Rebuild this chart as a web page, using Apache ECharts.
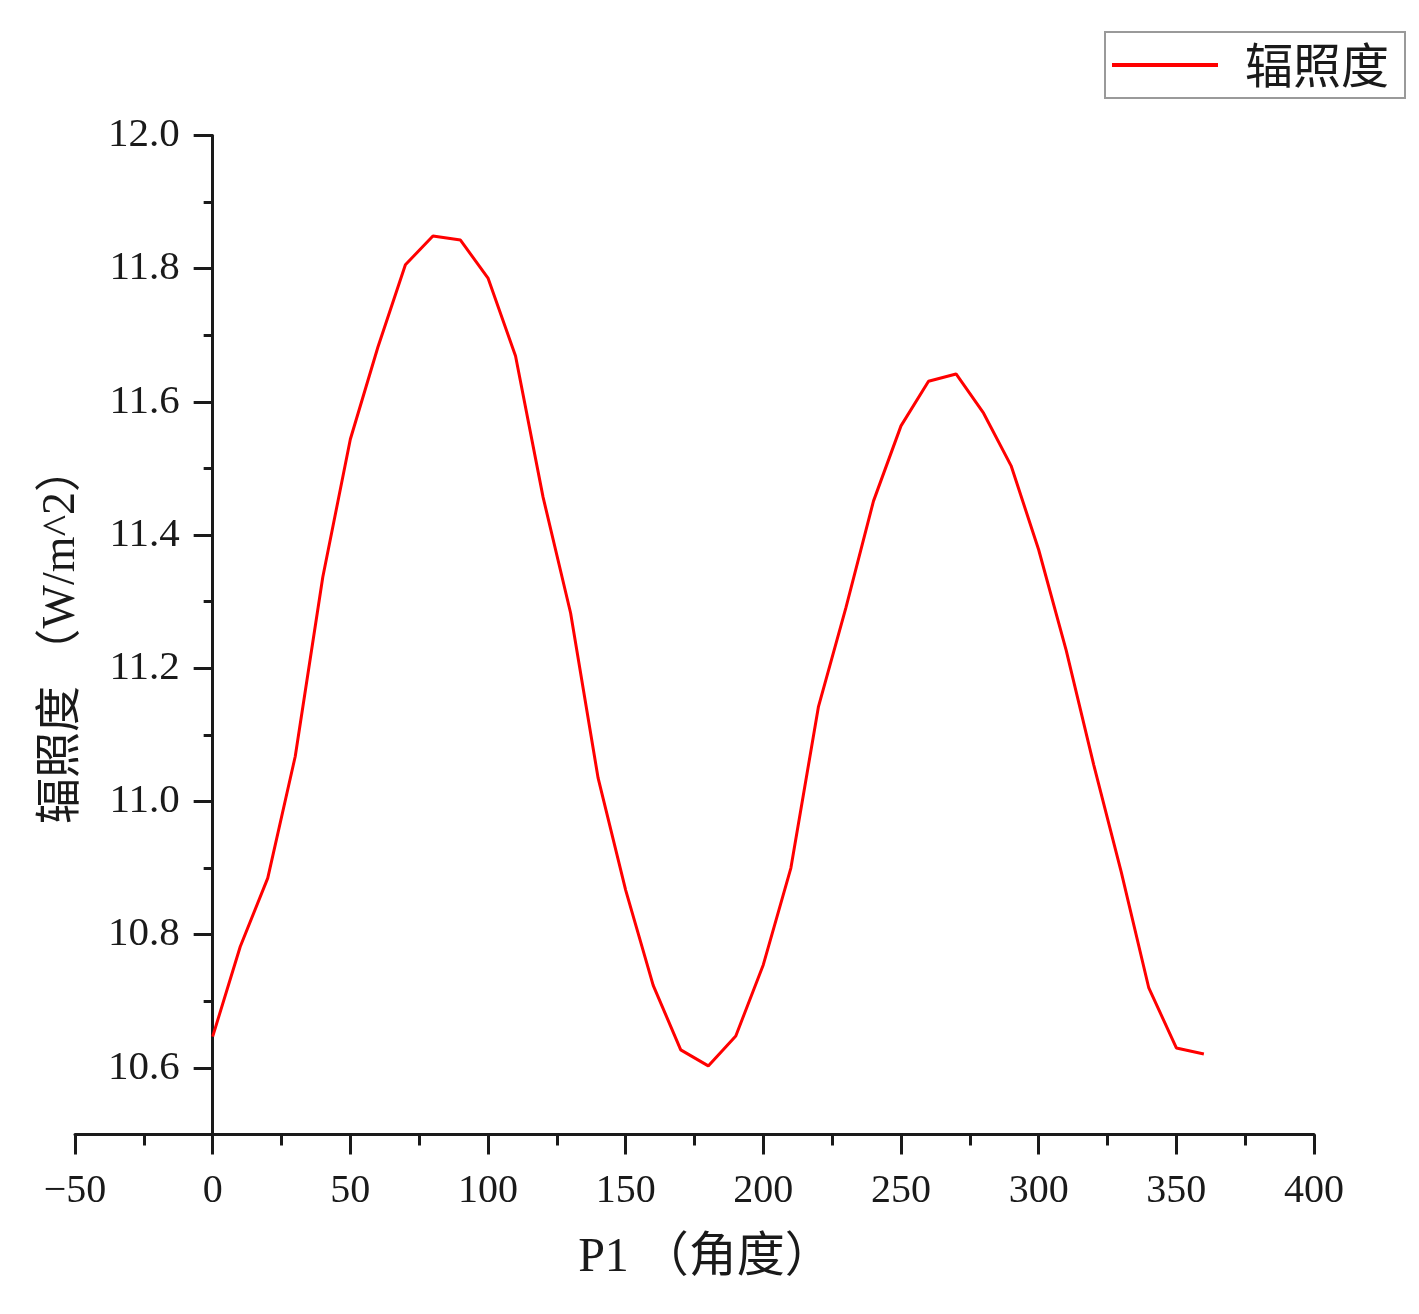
<!DOCTYPE html>
<html>
<head>
<meta charset="utf-8">
<script src="https://cdn.jsdelivr.net/npm/echarts@6/dist/echarts.min.js"></script>
<style>
html,body{margin:0;padding:0;background:#fff;}
#chart{width:1419px;height:1314px;}
</style>
</head>
<body>
<div id="chart"></div>
<script>
const seriesName = '辐照度';
const angles = [0,10,20,30,40,50,60,70,80,90,100,110,120,130,140,150,160,170,180,190,200,210,220,230,240,250,260,270,280,290,300,310,320,330,340,350,360];
const irradiance = [10.647,10.782,10.885,11.068,11.337,11.544,11.682,11.806,11.849,11.843,11.786,11.669,11.457,11.283,11.035,10.867,10.724,10.627,10.603,10.648,10.755,10.900,11.142,11.291,11.451,11.564,11.631,11.642,11.583,11.504,11.378,11.227,11.055,10.894,10.720,10.630,10.621];
const yMajorTicks = [10.6,10.8,11.0,11.2,11.4,11.6,11.8,12.0];
const yMinorTicks = [10.7,10.9,11.1,11.3,11.5,11.7,11.9];
const xAxisName = 'P1 （角度）';
const yAxisName = '辐照度 （W/m^2）';

const fontMix = "'Liberation Serif','Noto Sans CJK SC',serif";
const ink = '#1a1a1a';

const X_MIN = -50, X_MAX = 400, Y_MIN = 10.5, Y_MAX = 12.0;
const plotLeft = 75, plotRight = 105, plotTop = 135.5, plotBottom = 179.5;
const plotWidth = 1419 - plotLeft - plotRight;
// the y axis sits at x = 0, so its grid starts where x = 0 falls on the x axis
const zeroLeft = plotLeft + (0 - X_MIN) / (X_MAX - X_MIN) * plotWidth;

const chart = echarts.init(document.getElementById('chart'));
chart.setOption({
  backgroundColor: '#fff',
  animation: false,
  grid: [
    { left: plotLeft, right: plotRight, top: plotTop, bottom: plotBottom, containLabel: false, outerBoundsMode: 'none' },
    { left: zeroLeft, right: plotRight, top: plotTop, bottom: plotBottom, containLabel: false, outerBoundsMode: 'none' }
  ],
  legend: {
    right: 14, top: 32,
    data: [{ name: seriesName, icon: 'rect' }],
    itemWidth: 106, itemHeight: 4,
    borderColor: '#9a9a9a', borderWidth: 2,
    padding: [8, 16, 8, 7],
    textStyle: { fontFamily: "'Noto Sans CJK SC',sans-serif", fontSize: 48, color: ink, lineHeight: 50, padding: [0,0,0,22] }
  },
  xAxis: [{
    gridIndex: 0,
    type: 'value', min: X_MIN, max: X_MAX, interval: 50,
    name: xAxisName, nameLocation: 'middle', nameGap: 100,
    nameTextStyle: { fontFamily: fontMix, fontSize: 48, color: ink, padding: [0, 0, 0, 22] },
    axisLine: { onZero: false, lineStyle: { color: ink, width: 3 } },
    axisTick: { show: true, length: 20, lineStyle: { color: ink, width: 3 } },
    minorTick: { show: true, splitNumber: 2, length: 11, lineStyle: { color: ink, width: 3 } },
    splitLine: { show: false },
    axisLabel: { margin: 37, fontFamily: fontMix, fontSize: 40, color: ink,
      formatter: v => String(v).replace('-', '\u2212') }
  }, {
    gridIndex: 1, show: false,
    type: 'value', min: 0, max: X_MAX, splitLine: { show: false }
  }],
  yAxis: [{
    gridIndex: 0, show: false,
    type: 'value', min: Y_MIN, max: Y_MAX, splitLine: { show: false }
  }, {
    gridIndex: 1,
    type: 'value', min: Y_MIN, max: Y_MAX, interval: 0.1, position: 'left',
    name: yAxisName, nameLocation: 'middle', nameGap: 128,
    nameTextStyle: { fontFamily: fontMix, fontSize: 46, color: ink },
    axisLine: { show: true, onZero: false, lineStyle: { color: ink, width: 3 } },
    axisTick: { show: true, length: 19, customValues: yMajorTicks, lineStyle: { color: ink, width: 3 } },
    splitLine: { show: false },
    axisLabel: { margin: 33, fontFamily: fontMix, fontSize: 41, color: ink,
      customValues: yMajorTicks, formatter: v => v.toFixed(1) }
  }, {
    gridIndex: 1,
    type: 'value', min: Y_MIN, max: Y_MAX, interval: 0.1, position: 'left',
    axisLine: { show: false, onZero: false },
    axisTick: { show: true, length: 9, customValues: yMinorTicks, lineStyle: { color: ink, width: 3 } },
    axisLabel: { show: false },
    splitLine: { show: false }
  }],
  series: [{
    name: seriesName, type: 'line', xAxisIndex: 0, yAxisIndex: 0,
    data: angles.map((a, i) => [a, irradiance[i]]),
    symbol: 'none', smooth: false,
    lineStyle: { color: '#ff0000', width: 3 },
    itemStyle: { color: '#ff0000' }
  }]
});
</script>
</body>
</html>
